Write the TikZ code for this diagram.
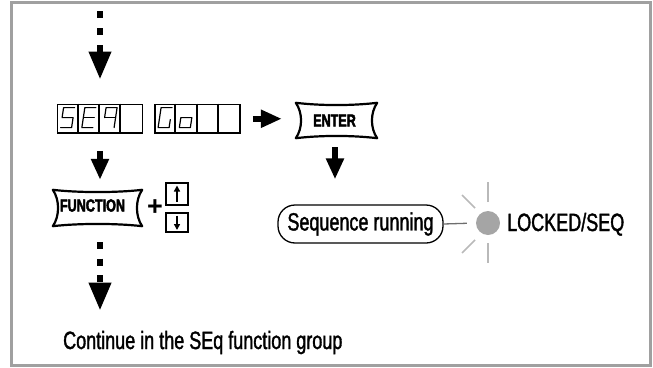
\documentclass[tikz,border=0pt]{standalone}
\usepackage{fontspec}
\setmainfont{Liberation Sans}
\newfontfamily\condf[FakeStretch=0.72,FakeBold=1.4]{Liberation Sans}
\newfontfamily\condb[FakeStretch=0.72,FakeBold=2.4]{Liberation Sans Bold}
\usetikzlibrary{arrows.meta,calc}
\definecolor{framegray}{RGB}{160,160,160}
\definecolor{ledgray}{RGB}{165,165,165}
\definecolor{raygray}{RGB}{185,185,185}
\definecolor{linkgray}{RGB}{110,110,110}
\newcommand\keycap[1]{%
 \draw[keyline] (#1.north west)
  .. controls ([xshift=25pt,yshift=-3pt]#1.north west) and ([xshift=-25pt,yshift=-3pt]#1.north east) .. (#1.north east)
  .. controls ([xshift=-7pt,yshift=-10pt]#1.north east) and ([xshift=-7pt,yshift=10pt]#1.south east) .. (#1.south east)
  .. controls ([xshift=-25pt,yshift=3pt]#1.south east) and ([xshift=25pt,yshift=3pt]#1.south west) .. (#1.south west)
  .. controls ([xshift=7pt,yshift=10pt]#1.south west) and ([xshift=7pt,yshift=-10pt]#1.north west) .. cycle;}
\begin{document}
\begin{tikzpicture}[x=1pt,y=-1pt,
 txt/.style={font=\condf\fontsize{25}{30}\selectfont, inner sep=0pt},
 keytxt/.style={font=\condb\fontsize{17.5}{20}\selectfont, inner sep=0pt},
 keyline/.style={line width=2.2pt, line join=round},
 dispbox/.style={draw, line width=1.8pt, minimum width=85pt, minimum height=28.5pt, inner sep=0pt},
 displine/.style={line width=1.8pt},
 segline/.style={line width=1.2pt, line join=round, line cap=round},
 solidarr/.style={line width=6.5pt, -{Triangle[length=21pt,width=17pt]}},
 dasharr/.style={line width=6.5pt, dash pattern=on 7pt off 10pt, -{Triangle[length=28pt,width=21pt]}},
 smallkey/.style={draw, line width=1.7pt, minimum width=22pt, inner sep=0pt},
 smallarr/.style={line width=1.5pt, -{Triangle[length=6pt,width=6pt]}},
 seqbox/.style={draw, line width=1.3pt, rounded corners=17pt, minimum width=165pt, minimum height=38pt, inner sep=0pt},
 ray/.style={draw=raygray, line width=1.6pt},
 linkline/.style={draw=linkgray, line width=1.3pt}
]
\useasboundingbox (0,0) rectangle (653,367);
\draw[framegray, line width=3pt] (11,2.5) rectangle (650.5,365);

% displays
\node[dispbox] (disp1) at (100,118.75) {};
\node[dispbox] (disp2) at (197.5,118.75) {};
\foreach \i in {1,2,3}{
  \draw[displine] ($(disp1.north west)+(21.25*\i,0)$) -- ($(disp1.south west)+(21.25*\i,0)$);
  \draw[displine] ($(disp2.north west)+(21.25*\i,0)$) -- ($(disp2.south west)+(21.25*\i,0)$);
}
% S
\begin{scope}[shift={(disp1.north west)}]
 \draw[segline] (18,4) -- (7,4) -- (5.5,14) -- (16.5,14) -- (15,24) -- (4,24);
\end{scope}
% E
\begin{scope}[shift={($(disp1.north west)+(21.25,0)$)}]
 \draw[segline] (18,4) -- (7,4) -- (4,24) -- (15,24);
 \draw[segline] (5.5,14) -- (16.5,14);
\end{scope}
% 9
\begin{scope}[shift={($(disp1.north west)+(42.5,0)$)}]
 \draw[segline] (5.5,14) -- (7,4) -- (18,4) -- (15,24);
 \draw[segline] (5.5,14) -- (16.5,14);
\end{scope}
% G
\begin{scope}[shift={(disp2.north west)}]
 \draw[segline] (18,4) -- (7,4) -- (4,24) -- (15,24) -- (16.2,16);
\end{scope}
% o
\begin{scope}[shift={($(disp2.north west)+(21.25,0)$)}]
 \draw[segline] (5.5,14) -- (16.5,14) -- (15,24) -- (4,24) -- cycle;
\end{scope}

% keys
\node[minimum width=81pt, minimum height=35pt, inner sep=0pt] (enter) at (336.5,120.5) {};
\keycap{enter}
\node[keytxt] (entertxt) at ([xshift=-2pt]enter.center) {ENTER};
\node[minimum width=89pt, minimum height=36pt, inner sep=0pt] (func) at (97.5,208) {};
\keycap{func}
\node[keytxt] (functxt) at (92.5,205.5) {FUNCTION};
\node[font=\bfseries\fontsize{27}{28}\selectfont, inner sep=0pt] (plus) at (155,208) {+};
\node[smallkey, minimum height=22pt] (upkey) at (177,194) {};
\node[smallkey, minimum height=19pt] (downkey) at (177,222.5) {};
\draw[smallarr] ([yshift=-8pt]upkey.center) -- ([yshift=8.5pt]upkey.center);
\draw[smallarr] ([yshift=7pt]downkey.center) -- ([yshift=-7.5pt]downkey.center);

% sequence running and LED
\node[seqbox, txt] (seq) at (360.5,224) {Sequence running};
\node[circle, fill=ledgray, minimum size=24pt, inner sep=0pt] (led) at (488,223) {};
\draw[linkline, shorten >=9pt] (seq.east) -- (led.west);
\draw[ray] ([yshift=21pt]led.center) -- ([yshift=41pt]led.center);
\draw[ray] ([yshift=-20pt]led.center) -- ([yshift=-40pt]led.center);
\draw[ray] ([xshift=-13pt,yshift=15pt]led.center) -- ([xshift=-26pt,yshift=28pt]led.center);
\draw[ray] ([xshift=-13pt,yshift=-17pt]led.center) -- ([xshift=-26pt,yshift=-30pt]led.center);
\node[txt, anchor=base west] (locked) at (507,231) {LOCKED/SEQ};

\node[txt, anchor=base west] (cont) at (63,349) {Continue in the SEq function group};

% connectors
\coordinate (topstart) at (100,11);
\draw[dasharr, shorten >=24pt] (topstart) -- (topstart |- disp1.north);
\draw[solidarr, shorten <=17pt, shorten >=10pt] (disp1.south) -- (disp1.south |- func.north);
\draw[solidarr, shorten <=12pt, shorten >=14pt] (disp2.east) -- (enter.west |- disp2.east);
\draw[solidarr, shorten <=9pt, shorten >=25pt] ([xshift=-1.5pt]enter.south) -- ([xshift=-1.5pt]enter.south |- seq.north);
\draw[dasharr, dash pattern=on 7pt off 9.5pt, shorten <=16pt, shorten >=20pt] (disp1.south |- func.south) -- (disp1.south |- cont.north);
\end{tikzpicture}
\end{document}
